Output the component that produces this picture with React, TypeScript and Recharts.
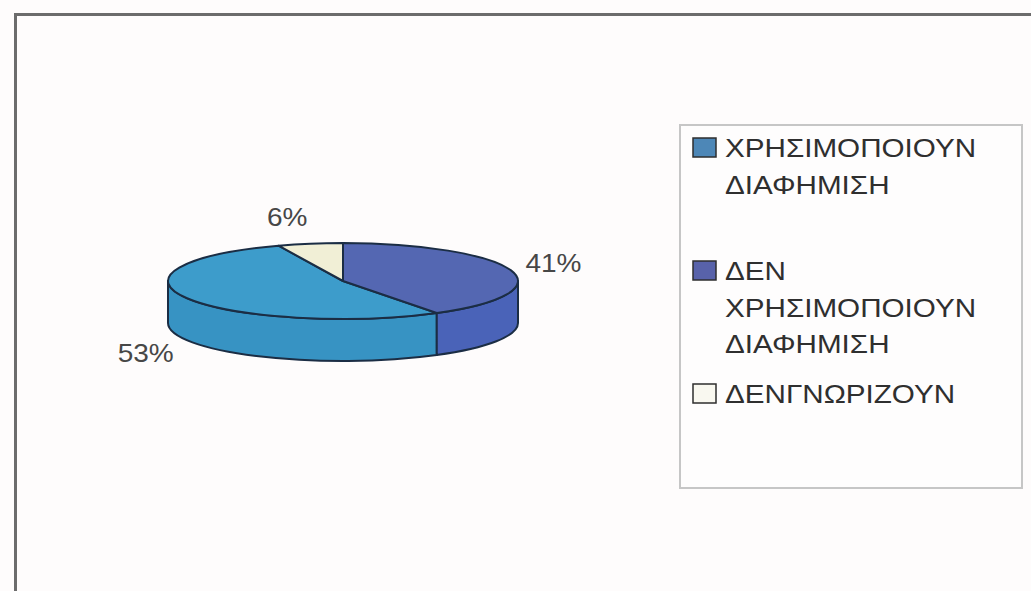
import { PieChart, Pie, Cell, Legend } from 'recharts';

const categories = ['ΧΡΗΣΙΜΟΠΟΙΟΥΝ ΔΙΑΦΗΜΙΣΗ', 'ΔΕΝ ΧΡΗΣΙΜΟΠΟΙΟΥΝ ΔΙΑΦΗΜΙΣΗ', 'ΔΕΝΓΝΩΡΙΖΟΥΝ'];
const shares = [53, 41, 6];

const topColors = ['#3d9ccb', '#5467b2', '#f1efd6'];
const sideColors = ['#3793c3', '#4a63b8', '#d6d4b2'];
const legendColors = ['#4d87b7', '#5862aa', '#f9f8f0'];

const data = categories.map((name, i) => ({ name, value: shares[i], idx: i }));

// keep the boundary between the last two slices at 12 o'clock, like the original
const total = shares.reduce((a, b) => a + b, 0);
const START = 450 - ((total - shares[shares.length - 1]) / total) * 360;

const TILT = 0.217; // ry / rx of the flattened pie
const DEPTH = 42;
const FONT = "'Liberation Sans', Arial, sans-serif";

function pt(cx: number, cy: number, r: number, a: number) {
  const rad = (a * Math.PI) / 180;
  return [cx + r * Math.cos(rad), cy - r * TILT * Math.sin(rad)];
}

function Slice3D(props: any) {
  const { cx, cy, outerRadius: r, startAngle, endAngle, stroke, payload } = props;
  const i = payload?.idx ?? 0;
  const s = Math.min(startAngle, endAngle);
  const e = Math.max(startAngle, endAngle);
  const ry = r * TILT;
  const [x1, y1] = pt(cx, cy, r, s);
  const [x2, y2] = pt(cx, cy, r, e);
  const large = e - s > 180 ? 1 : 0;
  const top = `M${cx},${cy} L${x1},${y1} A${r},${ry} 0 ${large} 0 ${x2},${y2} Z`;

  // the front wall is visible only where the rim is on the near side (180..360)
  const sides: string[] = [];
  for (let k = -1; k <= 2; k++) {
    const lo = Math.max(s, 180 + 360 * k);
    const hi = Math.min(e, 360 + 360 * k);
    if (hi > lo) {
      const [ax, ay] = pt(cx, cy, r, lo);
      const [bx, by] = pt(cx, cy, r, hi);
      sides.push(
        `M${ax},${ay} A${r},${ry} 0 0 0 ${bx},${by} L${bx},${by + DEPTH} A${r},${ry} 0 0 1 ${ax},${ay + DEPTH} Z`
      );
    }
  }

  return (
    <g>
      {sides.map((d, j) => (
        <path key={j} d={d} fill={sideColors[i]} stroke={stroke} strokeWidth={2} strokeLinejoin="round" />
      ))}
      <path d={top} fill={topColors[i]} stroke={stroke} strokeWidth={2} strokeLinejoin="round" />
    </g>
  );
}

function SliceLabel(props: any) {
  const { cx, cy, outerRadius: r, midAngle, percent } = props;
  const rad = (midAngle * Math.PI) / 180;
  const c = Math.cos(rad);
  const sn = Math.sin(rad);
  const x = cx + (r + 15) * c;
  const y = cy - (r * TILT + 27) * sn + (sn < 0 ? DEPTH : 0);
  return (
    <text
      transform={`translate(${x},${y}) scale(1.12,1)`}
      x={0}
      y={0}
      dy="0.36em"
      textAnchor={c < 0 ? 'end' : 'start'}
      fontSize={25}
      fontFamily={FONT}
      fill="#474747"
    >
      {`${Math.round(percent * 100)}%`}
    </text>
  );
}

function LegendBox({ payload }: any) {
  // keep the data order (the library sorts legend items by name)
  const items = [...(payload || [])].sort(
    (a: any, b: any) => categories.indexOf(a.value) - categories.indexOf(b.value)
  );
  return (
    <svg width={344} height={365} style={{ display: 'block' }}>
      <rect x={1} y={1} width={342} height={363} fill="#fefdfd" stroke="#c6c6c6" strokeWidth={2} />
      {items.map((item: any, i: number) => {
        const base = 33 + 123 * i;
        const lines = String(item.value).split(' ');
        const ci = categories.indexOf(item.value);
        return (
          <g key={i}>
            <rect x={14} y={base - 19} width={23} height={19} fill={legendColors[ci]} stroke="#2e2e2e" strokeWidth={1.5} />
            {lines.map((ln, j) => (
              <text
                key={j}
                transform={`translate(46,${base + j * 36.5}) scale(1.14,1)`}
                fontSize={26}
                fontFamily={FONT}
                fill="#2f2f2f"
              >
                {ln}
              </text>
            ))}
          </g>
        );
      })}
    </svg>
  );
}

export default function App() {
  return (
    <div
      style={{
        position: 'absolute',
        left: 0,
        top: 0,
        width: 1031,
        height: 591,
        overflow: 'hidden',
        background: '#fefcfc',
      }}
    >
      <div
        style={{
          position: 'absolute',
          left: 14,
          top: 13,
          width: 1100,
          height: 700,
          borderLeft: '3px solid #6c6c6c',
          borderTop: '3px solid #6c6c6c',
        }}
      />
      <div style={{ position: 'absolute', left: 0, top: 0 }}>
        <PieChart width={1031} height={591} margin={{ top: 0, right: 0, bottom: 0, left: 0 }}>
          <Pie
            data={data}
            dataKey="value"
            nameKey="name"
            cx={343}
            cy={281}
            outerRadius={175}
            startAngle={START}
            endAngle={START + 360}
            stroke="#1b2d44"
            strokeWidth={2}
            shape={Slice3D}
            label={SliceLabel}
            labelLine={false}
            isAnimationActive={false}
          >
            {data.map((d, i) => (
              <Cell key={d.name} fill={topColors[i]} />
            ))}
          </Pie>
          <Legend
            layout="vertical"
            align="right"
            verticalAlign="top"
            content={LegendBox}
            wrapperStyle={{ left: 679, top: 124, width: 344, height: 365 }}
          />
        </PieChart>
      </div>
    </div>
  );
}
